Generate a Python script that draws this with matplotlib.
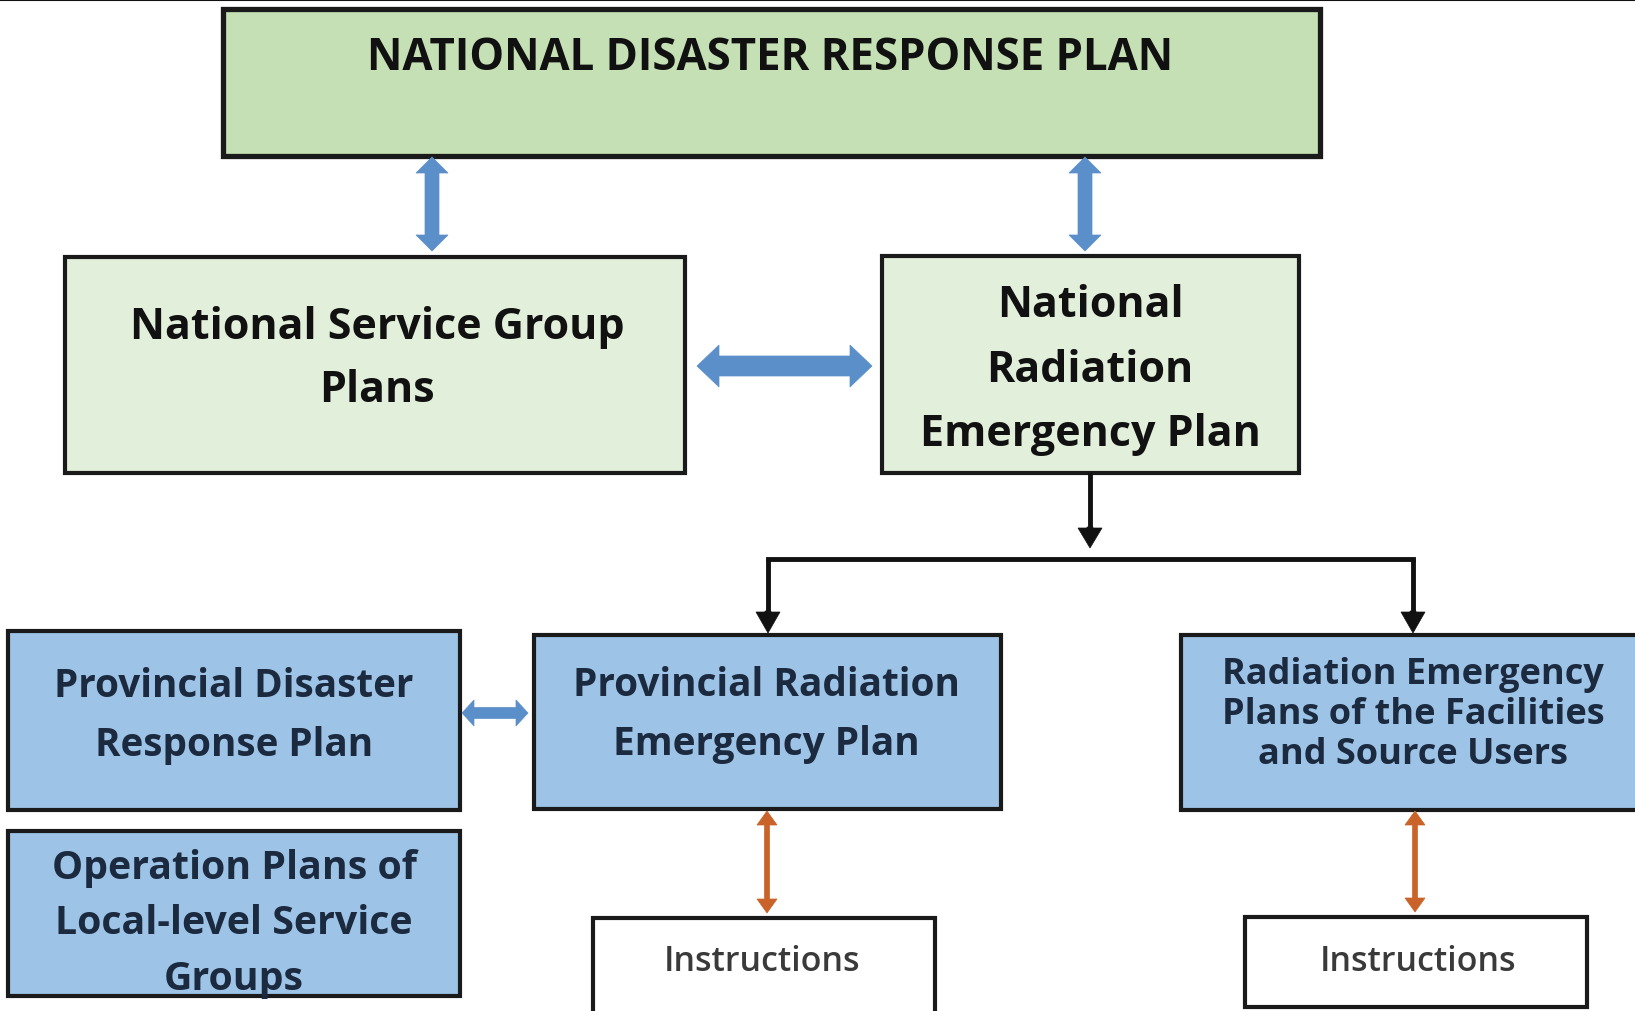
import matplotlib
matplotlib.use("Agg")
import matplotlib.pyplot as plt
from matplotlib.patches import Rectangle, Polygon
import numpy as np

plt.rcParams['font.family'] = ['Open Sans', 'DejaVu Sans']

# ---- content ----
box_labels = [
    "NATIONAL DISASTER RESPONSE PLAN",
    "National Service Group\nPlans",
    "National\nRadiation\nEmergency Plan",
    "Provincial Disaster\nResponse Plan",
    "Operation Plans of\nLocal-level Service\nGroups",
    "Provincial Radiation\nEmergency Plan",
    "Radiation Emergency\nPlans of the Facilities\nand Source Users",
    "Instructions",
    "Instructions",
]

# ---- layout (pixel coordinates, y downwards) ----
# x0, y0, x1, y1, facecolor, edge lw, text x, text y, fontsize, weight, text colour, linespacing
layout = [
    (223, 10, 1320, 157, "#c5e0b4", 3.8, 770, 58, 31.5, "bold", "#111111", 1.2),
    (65, 258, 685, 474, "#e2efda", 3.0, 377, 359, 31, "bold", "#111111", 1.63),
    (882, 257, 1299, 474, "#e2efda", 3.0, 1090, 370, 31, "bold", "#111111", 1.66),
    (8, 632, 460, 811, "#9dc3e6", 3.0, 234, 716, 27.8, "bold", "#1c2a40", 1.66),
    (8, 832, 460, 997, "#9dc3e6", 3.0, 234, 924, 28.3, "bold", "#1c2a40", 1.56),
    (534, 636, 1001, 810, "#9dc3e6", 3.0, 766, 715, 27.9, "bold", "#1c2a40", 1.7),
    (1181, 636, 1650, 811, "#9dc3e6", 3.0, 1413, 715, 26, "bold", "#1c2a40", 1.13),
    (593, 919, 935, 1030, "#ffffff", 3.0, 762, 962, 24.5, "semibold", "#3a3a3a", 1.2),
    (1245, 918, 1587, 1008, "#ffffff", 3.0, 1418, 962, 24.5, "semibold", "#3a3a3a", 1.2),
]

W, H = 1635, 1012
fig = plt.figure(figsize=(W / 100, H / 100), dpi=100)
ax = fig.add_axes([0, 0, 1, 1])
ax.set_xlim(0, W)
ax.set_ylim(H, 0)
ax.axis("off")

# thin line at the very top
ax.plot([0, W], [1, 1], color="#111111", lw=1.5, solid_capstyle="butt")

for lab, (x0, y0, x1, y1, fc, lw, tx, ty, fs, fw, tc, ls) in zip(box_labels, layout):
    ax.add_patch(Rectangle((x0, y0), x1 - x0, y1 - y0, facecolor=fc,
                           edgecolor="#1a1a1a", lw=lw, zorder=2))
    ax.text(tx, ty, lab, ha="center", va="center", fontsize=fs,
            fontweight=fw, color=tc, linespacing=ls, zorder=3)


def double_arrow(p0, p1, shaft, head_w, head_len, color, both=True):
    p0 = np.array(p0, float)
    p1 = np.array(p1, float)
    d = p1 - p0
    L = np.linalg.norm(d)
    u = d / L
    n = np.array([-u[1], u[0]])
    s, h = shaft / 2, head_w / 2
    pts = []
    if both:
        a = p0 + u * head_len
        pts += [p0, a + n * h, a + n * s]
    else:
        pts += [p0 + n * s]
    b = p1 - u * head_len
    pts += [b + n * s, b + n * h, p1, b - n * h, b - n * s]
    if both:
        pts += [a - n * s, a - n * h]
    else:
        pts += [p0 - n * s]
    ax.add_patch(Polygon(pts, closed=True, facecolor=color, edgecolor=color,
                         lw=0.5, zorder=4))


blue = "#5b8fc9"
orange = "#c9632a"
# blue connectors
double_arrow((432, 158), (432, 252), 14, 32, 16, blue)
double_arrow((1085, 158), (1085, 252), 14, 32, 16, blue)
double_arrow((697, 367), (872, 367), 20, 42, 22, blue)
double_arrow((462, 714), (528, 714), 11, 26, 12, blue)
# orange connectors
double_arrow((767, 812), (767, 914), 5, 20, 14, orange)
double_arrow((1415, 812), (1415, 913), 5, 20, 14, orange)

# black tree connector
k = "#111111"
ax.plot([1090, 1090], [474, 535], color=k, lw=3.5, solid_capstyle="butt", zorder=4)
double_arrow((1090, 528), (1090, 549), 6, 24, 20, k, both=False)
ax.plot([768, 1413], [560, 560], color=k, lw=3.5, solid_capstyle="projecting", zorder=4)
for x in (768, 1413):
    ax.plot([x, x], [560, 615], color=k, lw=3.5, solid_capstyle="butt", zorder=4)
    double_arrow((x, 612), (x, 634), 6, 24, 21, k, both=False)

fig.savefig("out.png", dpi=100, facecolor="white")
